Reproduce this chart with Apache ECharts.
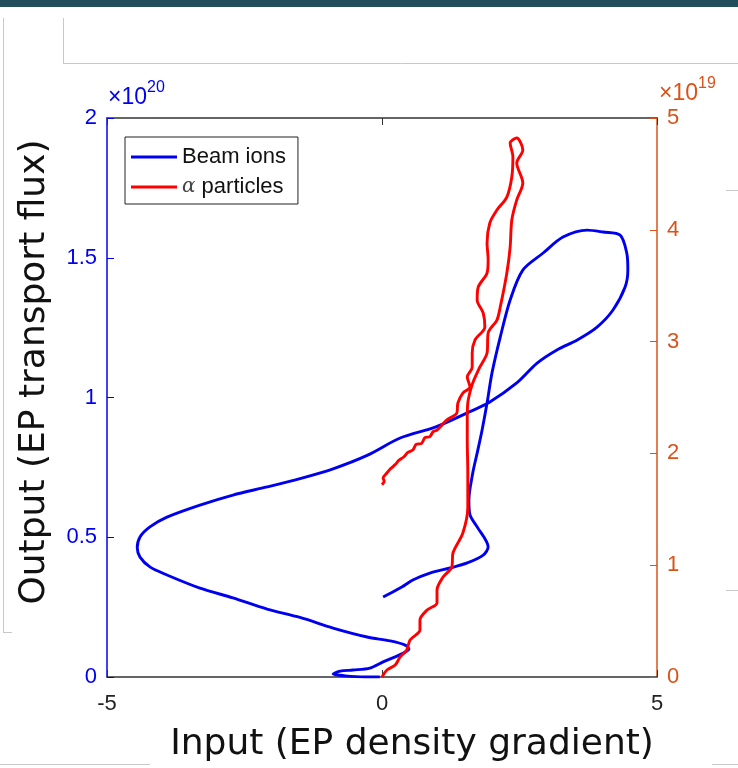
<!DOCTYPE html>
<html>
<head>
<meta charset="utf-8">
<script src="https://cdn.jsdelivr.net/npm/echarts@6/dist/echarts.min.js"></script>
<style>
  html, body { margin: 0; padding: 0; background: #fff; }
  #chart { width: 738px; height: 768px; }
</style>
</head>
<body>
<div id="chart"></div>
<script>
// beam ions trajectory, left axis (x10^20)
const beamX = [-0.04, -0.31, -0.67, -0.89, -0.76, -0.53, -0.22, 0.02, 0.24, 0.42, 0.49, 0.42, 0.15, -0.27,
  -0.89, -1.49, -2.09, -2.71, -3.31, -3.91, -4.22, -4.40, -4.45, -4.40, -4.22, -3.91, -3.31, -2.71,
  -2.09, -1.49, -0.89, -0.27, 0.33, 0.98, 1.55, 1.96, 2.45, 2.82, 3.18, 3.55, 3.91, 4.20, 4.42, 4.47,
  4.45, 4.33, 4.02, 3.73, 3.29, 2.93, 2.56, 2.33, 2.15, 2.00, 1.91, 1.82, 1.73, 1.65, 1.58, 1.60, 1.73,
  1.93, 1.84, 1.55, 1.24, 0.87, 0.56, 0.36, 0.02];
const beamY = [0.0, 0.0, 0.004, 0.011, 0.021, 0.025, 0.032, 0.054, 0.072, 0.089, 0.10, 0.114, 0.129, 0.143,
  0.175, 0.213, 0.243, 0.283, 0.318, 0.365, 0.394, 0.429, 0.462, 0.501, 0.537, 0.572, 0.615, 0.651,
  0.680, 0.710, 0.745, 0.793, 0.855, 0.895, 0.945, 0.984, 1.052, 1.123, 1.170, 1.206, 1.252, 1.313, 1.395, 1.456,
  1.517, 1.581, 1.592, 1.599, 1.574, 1.517, 1.456, 1.349, 1.216, 1.088, 0.980, 0.884, 0.801, 0.730, 0.633, 0.580, 0.537,
  0.465, 0.436, 0.408, 0.390, 0.372, 0.347, 0.322, 0.286];

// alpha particles trajectory, right axis (x10^19)
const alphaX = [0.0, 0.09, 0.24, 0.33, 0.45, 0.51, 0.69, 0.69, 0.82, 1.0, 1.0, 1.11, 1.27, 1.29, 1.47, 1.56,
  1.56, 1.55, 1.55, 1.56, 1.60, 1.65, 1.78, 1.91, 1.93, 2.09, 2.15, 2.27, 2.33, 2.36, 2.45, 2.56, 2.45,
  2.56, 2.45, 2.33, 2.38, 2.36, 2.27, 2.09, 1.96, 1.91, 1.93, 1.91, 1.75, 1.73, 1.84, 1.87, 1.69, 1.64,
  1.64, 1.55, 1.60, 1.47, 1.38, 1.36, 1.18, 1.0, 0.93, 0.87, 0.78, 0.72, 0.62, 0.56, 0.47, 0.40, 0.31,
  0.24, 0.15, 0.08, 0.02, 0.04, 0.0];
const alphaY = [0.0, 0.063, 0.107, 0.179, 0.242, 0.331, 0.420, 0.510, 0.599, 0.662, 0.778, 0.894, 0.984, 1.109,
  1.288, 1.521, 1.825, 2.120, 2.299, 2.451, 2.549, 2.630, 2.773, 2.898, 3.077, 3.193, 3.309, 3.614, 3.846,
  4.088, 4.267, 4.419, 4.597, 4.714, 4.821, 4.776, 4.651, 4.472, 4.293, 4.177, 4.061, 3.882, 3.730, 3.614,
  3.488, 3.372, 3.256, 3.131, 3.014, 2.898, 2.773, 2.683, 2.594, 2.540, 2.451, 2.361, 2.299, 2.209, 2.195,
  2.150, 2.140, 2.090, 2.080, 2.030, 2.010, 1.970, 1.940, 1.900, 1.860, 1.820, 1.780, 1.750, 1.720];

const xTicks = [-5, 0, 5];
const leftTicks = ['0', '0.5', '1', '1.5', '2'];
const rightTicks = ['0', '1', '2', '3', '4', '5'];

const BLUE = '#0000f0';
const ORANGE = '#d95319';
const RED = '#ff0000';

const chart = echarts.init(document.getElementById('chart'));

function pairs(xs, ys) {
  return xs.map((x, i) => [x, ys[i]]);
}

function grayLine(x1, y1, x2, y2) {
  return { type: 'line', shape: { x1, y1, x2, y2 }, style: { stroke: '#c8c8c8', lineWidth: 1 }, silent: true };
}

const option = {
  backgroundColor: '#fff',
  animation: false,
  grid: { left: 107, right: 81, top: 118, bottom: 91 },
  legend: {
    left: 125,
    top: 137,
    orient: 'vertical',
    backgroundColor: '#fff',
    borderColor: '#222',
    borderWidth: 1,
    padding: [9, 12, 6, 6],
    icon: 'rect',
    itemWidth: 46,
    itemHeight: 3,
    itemGap: 8,
    textStyle: {
      fontFamily: 'Liberation Sans',
      fontSize: 22,
      color: '#111',
      rich: {
        a: { fontFamily: 'DejaVu Serif', fontStyle: 'italic', fontSize: 20, color: '#444' },
        t: { fontFamily: 'Liberation Sans', fontSize: 22, color: '#111' }
      }
    },
    formatter: function (name) {
      if (name === 'alpha') return '{a|α} {t|particles}';
      return name;
    },
    data: ['Beam ions', 'alpha']
  },
  xAxis: [{
    type: 'value',
    min: -5, max: 5, interval: 5,
    axisLine: { onZero: false, lineStyle: { color: '#333', width: 1.5 } },
    axisTick: { inside: true, length: 7, lineStyle: { color: '#333' } },
    axisLabel: {
      color: '#222', fontSize: 22, fontFamily: 'Liberation Sans', margin: 16,
      formatter: v => xTicks.includes(v) ? String(v) : ''
    },
    splitLine: { show: false }
  }, {
    type: 'value',
    position: 'top',
    min: -5, max: 5, interval: 5,
    axisLine: { show: true, onZero: false, lineStyle: { color: '#333', width: 1.5 } },
    axisTick: { inside: true, length: 7, lineStyle: { color: '#333' } },
    axisLabel: { show: false },
    splitLine: { show: false }
  }],
  yAxis: [{
    type: 'value',
    min: 0, max: 2, interval: 0.5,
    position: 'left',
    axisLine: { show: true, onZero: false, lineStyle: { color: BLUE, width: 1.5 } },
    axisTick: { show: true, inside: true, length: 7, lineStyle: { color: BLUE } },
    axisLabel: {
      color: BLUE, fontSize: 22, fontFamily: 'Liberation Sans', margin: 10,
      formatter: (v) => leftTicks[Math.round(v * 2)]
    },
    splitLine: { show: false }
  }, {
    type: 'value',
    min: 0, max: 5, interval: 1,
    position: 'right',
    axisLine: { show: true, onZero: false, lineStyle: { color: ORANGE, width: 1.5 } },
    axisTick: { show: true, inside: true, length: 7, lineStyle: { color: ORANGE } },
    axisLabel: {
      color: ORANGE, fontSize: 22, fontFamily: 'Liberation Sans', margin: 10,
      formatter: (v) => rightTicks[Math.round(v)]
    },
    splitLine: { show: false }
  }],
  series: [{
    name: 'Beam ions',
    type: 'line',
    yAxisIndex: 0,
    symbol: 'none',
    smooth: 0.3,
    data: pairs(beamX, beamY),
    lineStyle: { color: BLUE, width: 2.9 },
    itemStyle: { color: BLUE }
  }, {
    name: 'alpha',
    type: 'line',
    yAxisIndex: 1,
    symbol: 'none',
    smooth: 0.3,
    data: pairs(alphaX, alphaY),
    lineStyle: { color: RED, width: 2.9 },
    itemStyle: { color: RED }
  }],
  graphic: [
    { type: 'rect', shape: { x: 0, y: 0, width: 738, height: 7 }, style: { fill: '#1f4d5a' }, silent: true },
    grayLine(3.5, 18, 3.5, 632),
    grayLine(3, 632.5, 12, 632.5),
    grayLine(63.5, 18, 63.5, 63),
    grayLine(63, 63.5, 738, 63.5),
    grayLine(726, 190.5, 738, 190.5),
    grayLine(726, 590.5, 738, 590.5),
    grayLine(0, 764.5, 150, 764.5),
    grayLine(712, 764.5, 738, 764.5),
    {
      type: 'text', left: 108, top: 80,
      style: {
        text: '{m|×10}{s|20}',
        rich: {
          m: { fontSize: 23, fontFamily: 'Liberation Sans', fill: BLUE, verticalAlign: 'bottom' },
          s: { fontSize: 16, fontFamily: 'Liberation Sans', fill: BLUE, padding: [0, 0, 13, 0], verticalAlign: 'bottom' }
        }
      }
    },
    {
      type: 'text', left: 659, top: 76,
      style: {
        text: '{m|×10}{s|19}',
        rich: {
          m: { fontSize: 23, fontFamily: 'Liberation Sans', fill: ORANGE, verticalAlign: 'bottom' },
          s: { fontSize: 16, fontFamily: 'Liberation Sans', fill: ORANGE, padding: [0, 0, 13, 0], verticalAlign: 'bottom' }
        }
      }
    },
    {
      type: 'text', x: 35, y: 372, rotation: Math.PI / 2,
      style: {
        text: 'Output (EP transport flux)',
        fontSize: 36, fontFamily: 'DejaVu Sans', fill: '#111',
        align: 'center', verticalAlign: 'middle'
      }
    },
    {
      type: 'text', x: 412, y: 745,
      style: {
        text: 'Input (EP density gradient)',
        fontSize: 36, fontFamily: 'DejaVu Sans', fill: '#111',
        align: 'center', verticalAlign: 'middle'
      }
    }
  ]
};

chart.setOption(option);
</script>
</body>
</html>
